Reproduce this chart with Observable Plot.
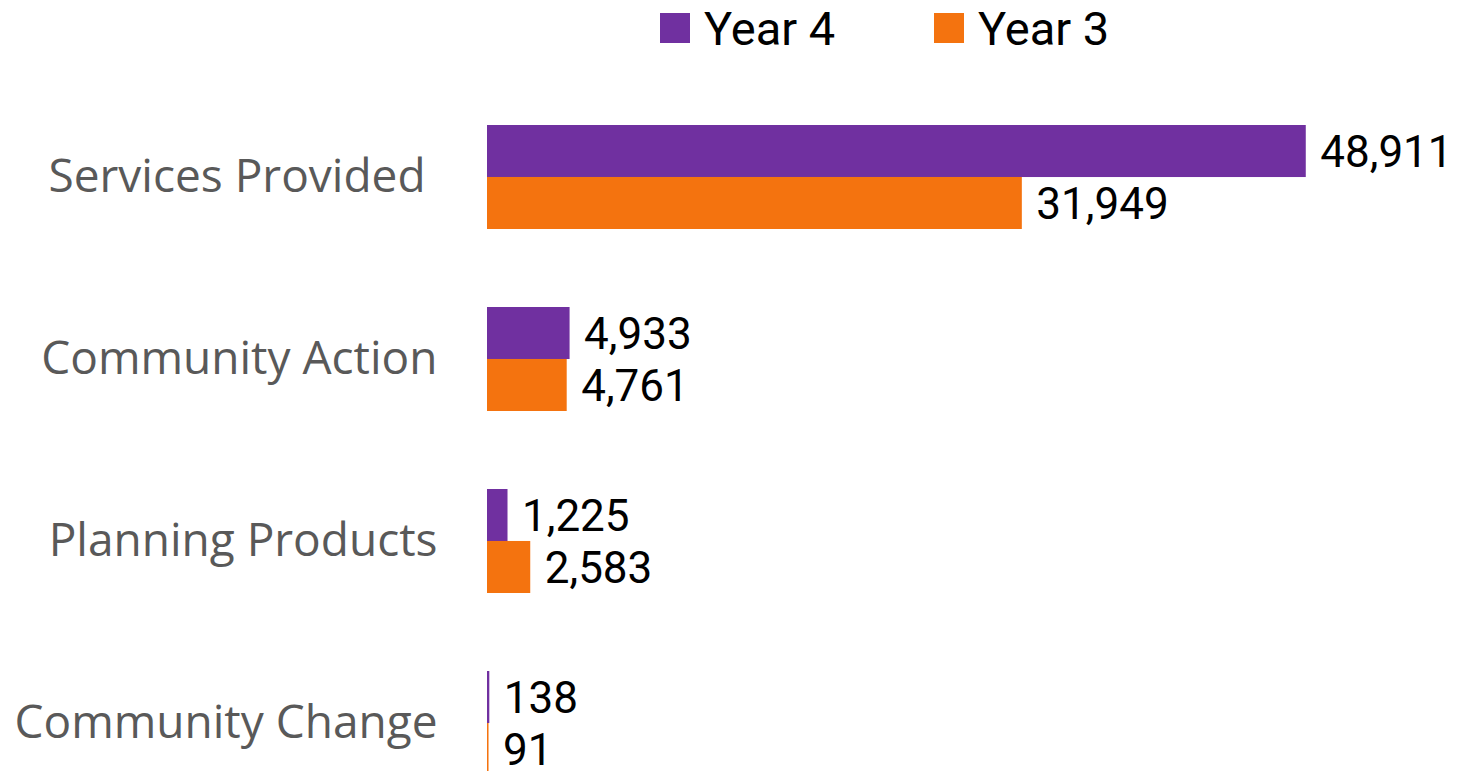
<!DOCTYPE html>
<html>
<head>
<meta charset="utf-8">
<script src="https://cdn.jsdelivr.net/npm/d3@7"></script>
<script src="https://cdn.jsdelivr.net/npm/@observablehq/plot@0.6"></script>
<style>
  html, body { margin: 0; padding: 0; background: #fff; overflow: hidden; }
  body { width: 1462px; height: 771px; font-family: "Open Sans", sans-serif; }
  .legend { position: relative; height: 56px; }
  .item { position: absolute; top: 0; height: 56px; display: flex; align-items: center; gap: 14px; }
  .sw { width: 30px; height: 30px; }
  .lab { font-family: Roboto, sans-serif; font-size: 47px; line-height: 1; color: #000; position: relative; top: 0; }
  svg text { white-space: pre; }
</style>
</head>
<body>
<div class="legend" id="legend"></div>
<div id="chart"></div>
<script>
const categories = ["Services Provided ", "Community Action", "Planning Products", "Community Change"];
const seriesNames = ["Year 4", "Year 3"];
const year4 = [48911, 4933, 1225, 138];
const year3 = [31949, 4761, 2583, 91];
const colors = ["#7030A0", "#F4730F"];

// legend
const legendLefts = [660, 934];
const legend = document.getElementById("legend");
seriesNames.forEach((name, i) => {
  const item = document.createElement("div");
  item.className = "item";
  item.style.left = legendLefts[i] + "px";
  const sw = document.createElement("div");
  sw.className = "sw";
  sw.style.background = colors[i];
  const lab = document.createElement("span");
  lab.className = "lab";
  lab.textContent = name;
  item.appendChild(sw);
  item.appendChild(lab);
  legend.appendChild(item);
});

const rows = [];
categories.forEach((c, i) => {
  rows.push({category: c, series: "Year 4", value: year4[i]});
  rows.push({category: c, series: "Year 3", value: year3[i]});
});

const W = 1462, H = 715, mTop = 68, mBottom = -4, mLeft = 487, mRight = 138;
const yOpts = {type: "band", domain: categories, range: [mTop, H - mBottom], paddingInner: 0.43, paddingOuter: 0};
const bw = Plot.scale({y: yOpts}).bandwidth;
const half = bw / 2;
const fmt = d3.format(",");

const y4 = rows.filter(d => d.series === "Year 4");
const y3 = rows.filter(d => d.series === "Year 3");

const valueFont = "Roboto, sans-serif";

const chart = Plot.plot({
  width: W,
  height: H,
  marginTop: mTop,
  marginBottom: mBottom,
  marginLeft: mLeft,
  marginRight: mRight,
  style: {fontFamily: "'Open Sans', sans-serif", background: "#fff", overflow: "visible"},
  x: {domain: [0, 50000], axis: null},
  y: {domain: categories, range: [mTop, H - mBottom], paddingInner: 0.43, paddingOuter: 0, axis: null},
  color: {domain: seriesNames, range: colors},
  marks: [
    Plot.barX(y4, {x: "value", y: "category", fill: "series", insetBottom: half}),
    Plot.barX(y3, {x: "value", y: "category", fill: "series", insetTop: half}),
    Plot.text(y4, {x: "value", y: "category", text: d => fmt(d.value), dy: -half / 2 + 1, dx: 14, textAnchor: "start", fontSize: 44, fontFamily: valueFont, fill: "#000"}),
    Plot.text(y3, {x: "value", y: "category", text: d => fmt(d.value), dy: half / 2 + 1, dx: 14, textAnchor: "start", fontSize: 44, fontFamily: valueFont, fill: "#000"}),
    Plot.text(categories, {y: d => d, text: d => d, frameAnchor: "left", textAnchor: "end", dx: -50, fontSize: 46, fill: "#595959"})
  ]
});
document.getElementById("chart").appendChild(chart);
</script>
</body>
</html>
